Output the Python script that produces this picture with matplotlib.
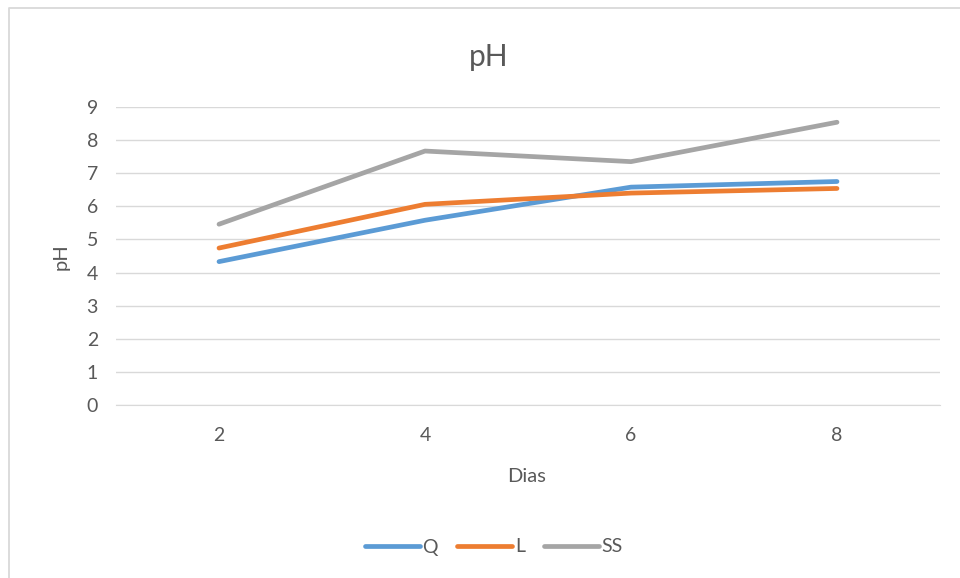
import matplotlib.pyplot as plt
from matplotlib.lines import Line2D

dias = ['2', '4', '6', '8']
ph_q = [4.33, 5.58, 6.58, 6.75]
ph_l = [4.74, 6.06, 6.40, 6.54]
ph_ss = [5.46, 7.67, 7.35, 8.54]

plt.rcParams['font.family'] = ['Lato', 'DejaVu Sans']
txt = '#595959'

W, H = 960, 578
fig = plt.figure(figsize=(W / 100, H / 100), dpi=100)
ax = fig.add_axes([116 / W, 1 - 405 / H, 824 / W, 298 / H])

# chart area border (left and top edges)
fig.lines.append(Line2D([8.5 / W, 8.5 / W, 1], [0, 1 - 8 / H, 1 - 8 / H],
                        transform=fig.transFigure, color='#D9D9D9', lw=1.3))

x = range(len(dias))
ax.plot(x, ph_q, color='#5B9BD5', lw=3.4, solid_capstyle='round', label='Q')
ax.plot(x, ph_l, color='#ED7D31', lw=3.4, solid_capstyle='round', label='L')
ax.plot(x, ph_ss, color='#A5A5A5', lw=3.4, solid_capstyle='round', label='SS')

ax.set_xlim(-0.5, 3.5)
ax.set_ylim(0, 9)
ax.set_yticks(range(10))
ax.set_xticks(list(x))
ax.set_xticklabels(dias)
ax.grid(axis='y', color='#D9D9D9', lw=1)
ax.set_axisbelow(True)
for s in ['top', 'right', 'left']:
    ax.spines[s].set_visible(False)
ax.spines['bottom'].set_color('#D9D9D9')
ax.tick_params(length=0, labelsize=14, labelcolor=txt)
ax.tick_params(axis='y', pad=13)
ax.tick_params(axis='x', pad=16)

fig.text(489 / W, 1 - 57 / H, 'pH', fontsize=21.5, color=txt, ha='center', va='center')
fig.text(527 / W, 1 - 477 / H, 'Dias', fontsize=14.5, color=txt, ha='center', va='center')
fig.text(61 / W, 1 - 257 / H, 'pH', fontsize=14.5, color=txt, ha='center', va='center',
         rotation=90)

ax.legend(loc='center', bbox_to_anchor=(494 / W, 1 - 547 / H), bbox_transform=fig.transFigure,
          ncol=3, frameon=False, fontsize=14, labelcolor=txt, handlelength=2.8,
          columnspacing=1.0, handletextpad=0.15)

fig.savefig('out.png', dpi=100)
